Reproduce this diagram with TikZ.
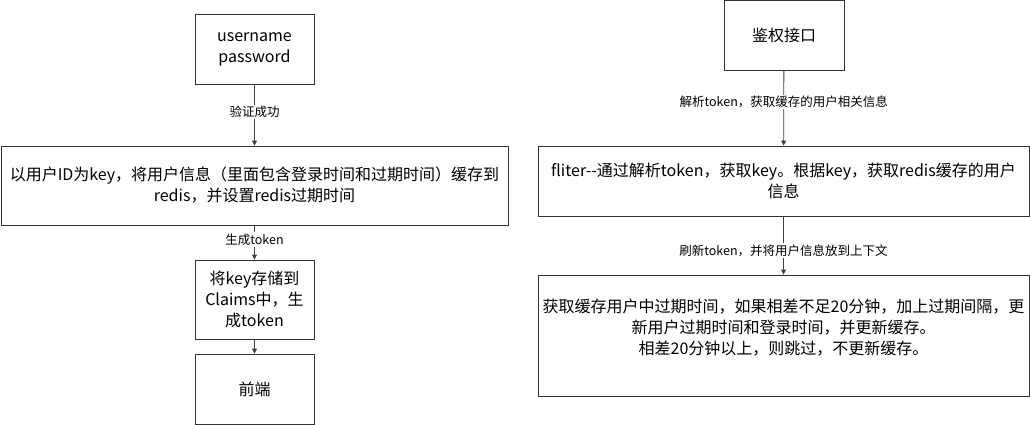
\documentclass[tikz,border=0pt]{standalone}
\usepackage{fontspec}
\setmainfont{Noto Sans CJK SC}
\usetikzlibrary{arrows.meta}
\begin{document}
\begin{tikzpicture}[x=1pt,y=-1pt,
  box/.style={draw=black!80, line width=0.8pt, fill=white, inner sep=0pt, align=center, font=\fontsize{16}{21}\selectfont, text=black},
  conn/.style={draw=black!75, line width=0.8pt, -{Triangle[length=5pt,width=5pt]}},
  lbl/.style={fill=white, inner sep=1.5pt, font=\fontsize{12.5}{14}\selectfont, text=black}]
\useasboundingbox (0,0) rectangle (1030,425);
% left column
\node[box, minimum width=119pt, minimum height=70pt] (up) at (254.5,49) {username\\password};
\node[box, minimum width=507pt, minimum height=79pt] (cache) at (254.5,185.5) {以用户ID为key，将用户信息（里面包含登录时间和过期时间）缓存到\\redis，并设置redis过期时间};
\node[box, minimum width=119pt, minimum height=79pt] (claims) at (254.5,299.5) {将key存储到\\Claims中，生\\成token};
\node[box, minimum width=119pt, minimum height=70pt] (front) at (254.5,389) {前端};
\draw[conn] (up) -- node[lbl, pos=0.45] {验证成功} (cache);
\draw[conn] (cache) -- node[lbl, pos=0.42] {生成token} (claims);
\draw[conn] (claims) -- (front);
% right column
\node[box, minimum width=120pt, minimum height=70pt] (auth) at (784,35) {鉴权接口};
\node[box, minimum width=491pt, minimum height=70pt] (filter) at (783.5,181) {fliter-{}-通过解析token，获取key。根据key，获取redis缓存的用户\\信息};
\node[box, minimum width=491pt, minimum height=121pt] (refresh) at (783.5,335.5) {获取缓存用户中过期时间，如果相差不足20分钟，加上过期间隔，更\\新用户过期时间和登录时间，并更新缓存。\\相差20分钟以上，则跳过，不更新缓存。\\[-4pt]};
\draw[conn] (auth) -- node[lbl, pos=0.42] {解析token，获取缓存的用户相关信息} (filter);
\draw[conn] (filter) -- node[lbl, pos=0.59] {刷新token，并将用户信息放到上下文} (refresh);
\end{tikzpicture}
\end{document}
